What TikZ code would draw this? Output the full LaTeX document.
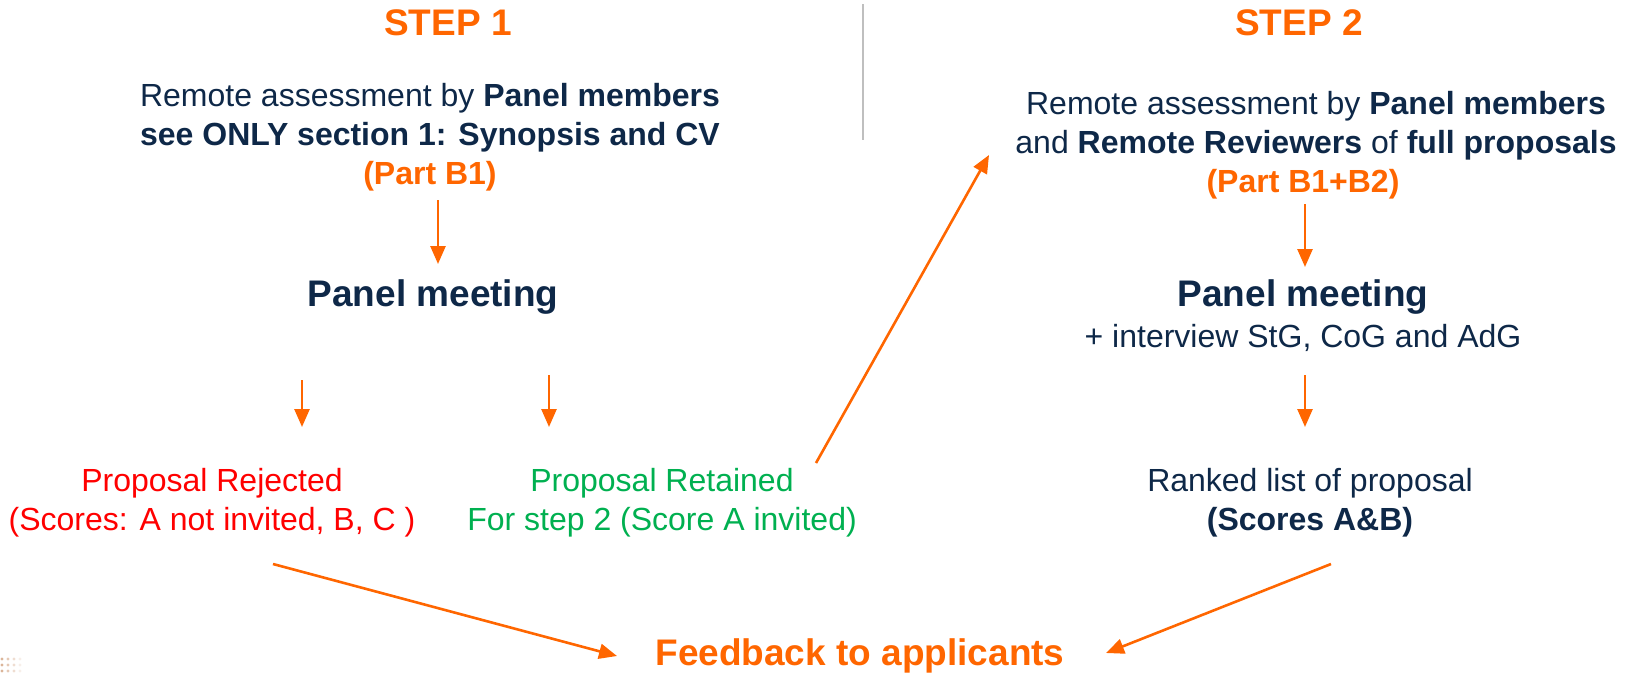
\documentclass[tikz,border=0pt]{standalone}
\usepackage{fontspec}
\setmainfont{Liberation Sans}
\usetikzlibrary{arrows.meta}
\definecolor{ercorange}{RGB}{255,102,0}
\definecolor{ercnavy}{RGB}{14,40,72}
\definecolor{rejred}{RGB}{255,0,0}
\definecolor{retgreen}{RGB}{0,176,80}
\definecolor{divider}{RGB}{191,191,191}
\definecolor{dotbrown}{RGB}{190,120,70}

\begin{document}
\begin{tikzpicture}[x=1pt,y=-1pt,
  txt/.style={align=center, text=ercnavy, inner sep=0pt,
              font=\fontsize{32}{39}\selectfont},
  heading/.style={inner sep=0pt, text=ercorange,
              font=\fontsize{37}{44}\selectfont\bfseries},
  bigtxt/.style={inner sep=0pt, text=ercnavy,
              font=\fontsize{37}{44}\selectfont\bfseries},
  flow/.style={draw=ercorange, line width=2.6pt,
              -{Triangle[width=15pt,length=18pt]}},
]
\useasboundingbox (0,0) rectangle (1626,673);

% column headings and divider
\node[heading] (step1) at (448,23) {STEP 1};
\node[heading] (step2) at (1299,23) {STEP 2};
\draw[divider, line width=1.5pt] (863,4) -- (863,140);

% step 1
\node[txt] (assess1) at (430,137)
  {Remote assessment by \textbf{Panel members}\\
   \textbf{see ONLY section 1: Synopsis and CV}\\
   \textcolor{ercorange}{\textbf{(Part B1)}}};
\node[bigtxt] (pm1) at (433,297) {Panel meeting};
\node[txt, text=rejred] (rej) at (212,503)
  {Proposal Rejected\\(Scores: A not invited, B, C )};
\node[txt, text=retgreen] (ret) at (662,503)
  {Proposal Retained\\For step 2 (Score A invited)};

% step 2
\node[txt] (assess2) at (1316,145)
  {Remote assessment by \textbf{Panel members}\\
   and \textbf{Remote Reviewers} of \textbf{full proposals}\\
   \hspace*{-26pt}\textcolor{ercorange}{\textbf{(Part B1+B2)}}};
\node[bigtxt] (pm2) at (1303,297) {Panel meeting};
\node[txt] (interview) at (1303,338) {+ interview StG, CoG and AdG};
\node[txt] (ranked) at (1310,503)
  {Ranked list of proposal\\\textbf{(Scores A\&B)}};

% common outcome
\node[heading] (feedback) at (860,656) {Feedback to applicants};

% arrow end points
\coordinate (a1s) at (438,200);  \coordinate (a1e) at (438,264);
\coordinate (a2s) at (302,380);  \coordinate (a2e) at (302,427);
\coordinate (a3s) at (549,375);  \coordinate (a3e) at (549,427);
\coordinate (a4s) at (816,463);  \coordinate (a4e) at (989,155);
\coordinate (a5s) at (1305,204); \coordinate (a5e) at (1305,267);
\coordinate (a6s) at (1305,375); \coordinate (a6e) at (1305,427);
\coordinate (a7s) at (273,564);  \coordinate (a7e) at (617,656);
\coordinate (a8s) at (1331,564); \coordinate (a8e) at (1106,653);

\draw[flow] (a1s) -- (a1e);
\draw[flow] (a2s) -- (a2e);
\draw[flow] (a3s) -- (a3e);
\draw[flow] (a4s) -- (a4e);
\draw[flow] (a5s) -- (a5e);
\draw[flow] (a6s) -- (a6e);
\draw[flow] (a7s) -- (a7e);
\draw[flow] (a8s) -- (a8e);

% faint dotted corner ornament
\foreach \x/\o in {2/0.55,8/0.4,14/0.25,20/0.12}
  \foreach \y in {659,665,671}
    \fill[dotbrown, opacity=\o] (\x,\y) circle (1.6);
\end{tikzpicture}
\end{document}
